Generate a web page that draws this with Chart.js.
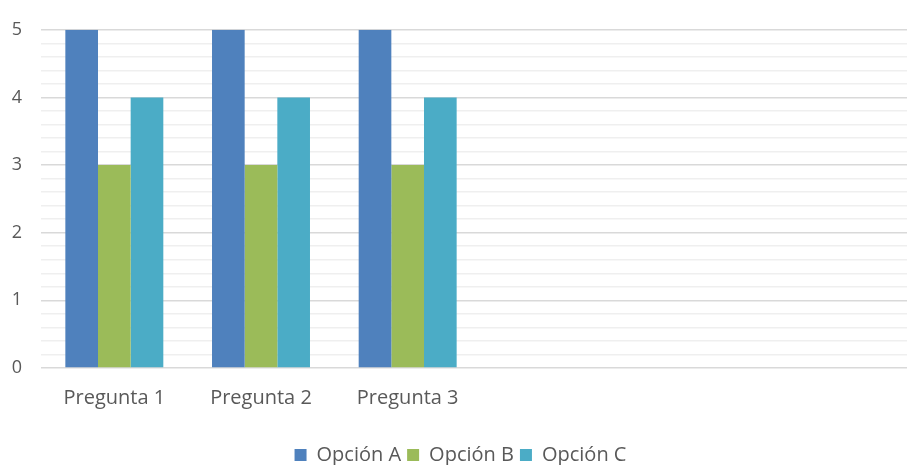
<!DOCTYPE html>
<html>
<head>
<meta charset="utf-8">
<script src="https://cdn.jsdelivr.net/npm/chart.js@4/dist/chart.umd.min.js"></script>
<style>
  html, body { margin: 0; padding: 0; background: #fff; overflow: hidden; }
  #wrap { width: 944px; height: 475px; }
</style>
</head>
<body>
<div id="wrap"><canvas id="chart"></canvas></div>
<script>
// datos (3 preguntas con valor, el resto vacías)
const categorias = ['Pregunta 1', 'Pregunta 2', 'Pregunta 3', '', '', '']
const opcionA = [5, 5, 5, null, null, null]
const opcionB = [3, 3, 3, null, null, null]
const opcionC = [4, 4, 4, null, null, null]
const ticksY = [0, 1, 2, 3, 4, 5]

const textColor = '#595959'
const fontFam = '"Open Sans", "DejaVu Sans", sans-serif'

new Chart(document.getElementById('chart'), {
  type: 'bar',
  data: {
    labels: categorias,
    datasets: [
      { label: 'Opción A', data: opcionA, backgroundColor: '#4f81bd' },
      { label: 'Opción B', data: opcionB, backgroundColor: '#9bbb59' },
      { label: 'Opción C', data: opcionC, backgroundColor: '#4bacc6' }
    ]
  },
  options: {
    responsive: true,
    maintainAspectRatio: false,
    animation: false,
    layout: { padding: { top: 29, right: 23, left: 0, bottom: 0 } },
    datasets: { bar: { categoryPercentage: 0.668, barPercentage: 1 } },
    scales: {
      x: {
        grid: { display: false },
        border: { display: false },
        ticks: { color: textColor, padding: 10, font: { family: fontFam, size: 20 }, maxRotation: 0 },
        afterFit: s => { s.height = 71 }
      },
      y: {
        min: ticksY[0],
        max: ticksY[ticksY.length - 1],
        ticks: {
          stepSize: 0.2,
          autoSkip: false,
          color: textColor,
          padding: 19,
          font: { family: fontFam, size: 18 },
          callback: v => ticksY.includes(Math.round(v * 1000) / 1000) ? Math.round(v) : ''
        },
        grid: {
          drawTicks: false,
          lineWidth: 1.5,
          color: ctx => {
            const v = Math.round(ctx.tick.value * 1000) / 1000
            return Number.isInteger(v) ? '#d9d9d9' : '#efefef'
          }
        },
        border: { display: false },
        afterFit: s => { s.width = 41 }
      }
    },
    plugins: {
      legend: {
        position: 'bottom',
        labels: {
          color: textColor,
          font: { family: fontFam, size: 20 },
          boxWidth: 12,
          boxHeight: 12,
          padding: 6
        }
      },
      tooltip: { enabled: false }
    }
  }
})
</script>
</body>
</html>
